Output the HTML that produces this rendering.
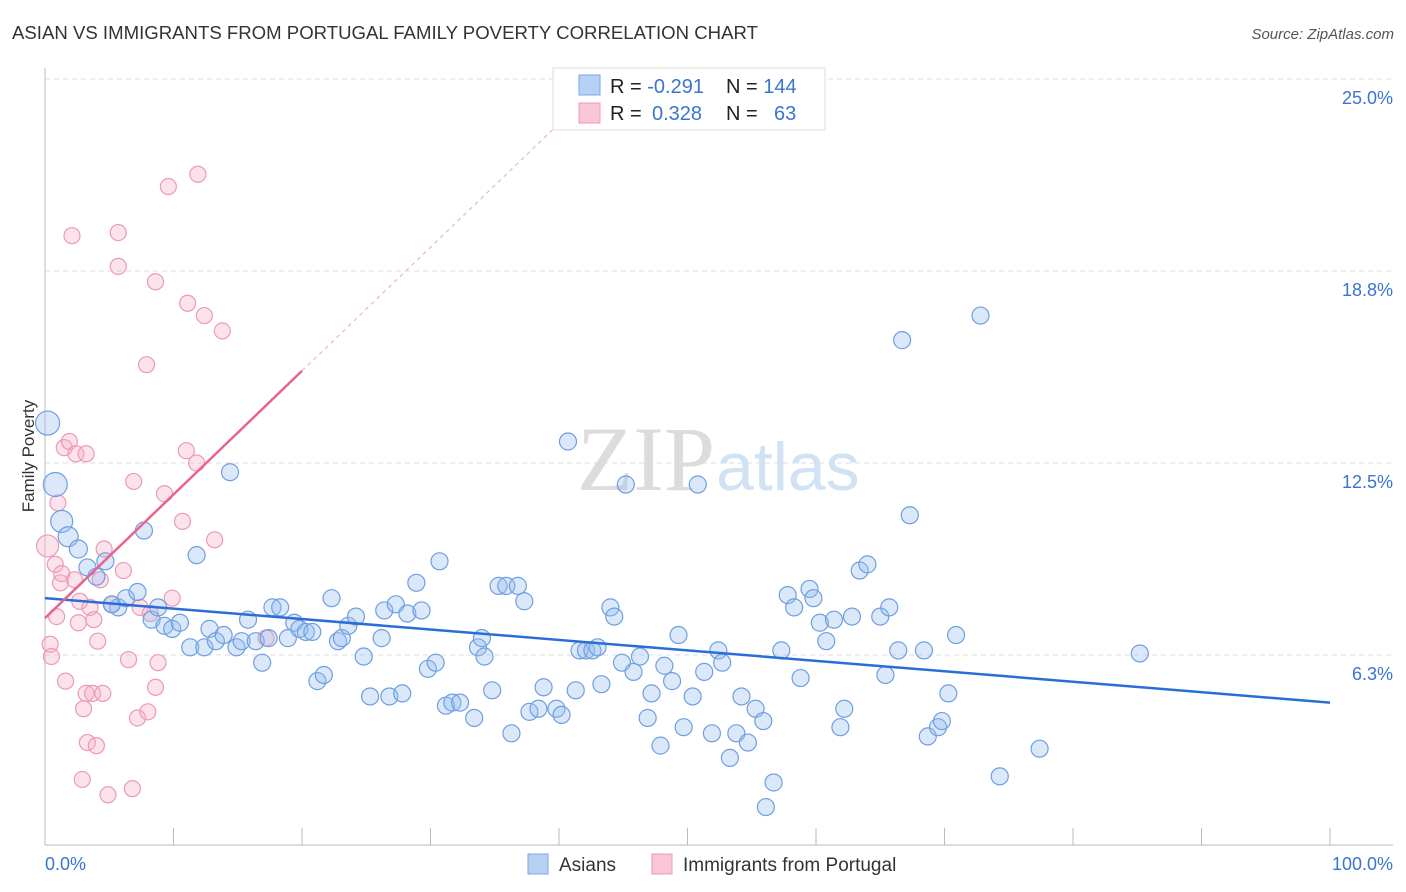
<!DOCTYPE html>
<html><head><meta charset="utf-8"><style>
body{margin:0;background:#fff;font-family:"Liberation Sans",sans-serif;}
svg{display:block}
</style></head><body>
<svg id="c" width="1406" height="892" xmlns="http://www.w3.org/2000/svg">
<text x="12" y="39" font-size="18.6" fill="#333">ASIAN VS IMMIGRANTS FROM PORTUGAL FAMILY POVERTY CORRELATION CHART</text>
<text x="1394" y="39" font-size="15" fill="#555" font-style="italic" text-anchor="end">Source: ZipAtlas.com</text>
<text x="0" y="0" transform="translate(34,456) rotate(-90)" font-size="17" fill="#333" text-anchor="middle">Family Poverty</text>
<g id="grid"></g>
<text x="715" y="490" font-size="92" fill="#dcdcdc" text-anchor="end" font-family="Liberation Serif,serif">ZIP</text>
<text x="716" y="490" font-size="68" fill="#d2e2f5">atlas</text>
<g id="pts"></g>
<g id="legend">
<rect x="553" y="68" width="272" height="62" fill="#fff" stroke="#ddd"/>
<rect x="579" y="75" width="21" height="20" fill="#b7d1f4" stroke="#7aa7e6"/>
<rect x="579" y="103" width="21" height="20" fill="#f9c6d5" stroke="#ec9ab5"/>
<text x="610" y="93" font-size="20" fill="#222">R = <tspan fill="#3b74d4">-0.291</tspan></text>
<text x="726" y="93" font-size="20" fill="#222">N = <tspan fill="#3b74d4">144</tspan></text>
<text x="610" y="120" font-size="20" fill="#222">R = <tspan fill="#3b74d4" x="652">0.328</tspan></text>
<text x="726" y="120" font-size="20" fill="#222">N = <tspan fill="#3b74d4" x="774">63</tspan></text>
</g>
<g>
<rect x="528" y="854" width="20" height="20" fill="#b7d1f4" stroke="#7aa7e6"/>
<text x="559" y="871" font-size="19" fill="#333">Asians</text>
<rect x="652" y="854" width="20" height="20" fill="#f9c6d5" stroke="#ec9ab5"/>
<text x="683" y="871" font-size="19" fill="#333">Immigrants from Portugal</text>
</g>
</svg>
<script>
const yTicks=[6.25,12.5,18.75,25];
const yTickLabels=["6.3%","12.5%","18.8%","25.0%"];
const xTickLabels=["0.0%","100.0%"];
const asianX=[0.2,0.8,1.3,1.8,2.6,3.3,4.0,4.7,5.7,5.2,6.3,7.2,7.7,8.3,8.8,9.3,9.9,10.5,11.3,11.8,12.4,12.8,13.3,13.9,14.4,14.9,15.3,15.8,16.4,16.9,17.4,17.7,18.3,18.9,19.4,19.8,20.3,20.8,21.2,21.7,22.3,22.8,23.1,23.6,24.2,24.8,25.3,26.2,26.4,26.8,27.3,27.8,28.2,28.9,29.3,29.8,30.4,30.7,31.2,31.7,32.3,33.4,33.7,34.0,34.2,34.8,35.3,35.9,36.3,36.8,37.3,37.7,38.4,38.8,39.8,40.2,40.7,41.3,41.6,42.1,42.6,43.0,43.3,44.0,44.3,44.9,45.2,45.8,46.3,46.9,47.2,47.9,48.2,48.8,49.3,49.7,50.4,50.8,51.3,51.9,52.4,52.7,53.3,53.8,54.2,54.7,55.3,55.9,56.1,56.7,57.3,57.8,58.3,58.8,59.5,59.8,60.3,60.8,61.4,61.9,62.2,62.8,63.4,64.0,65.0,65.4,65.7,66.4,66.7,67.3,68.4,68.7,69.5,69.8,70.3,70.9,72.8,74.3,77.4,85.2];
const asianY=[13.8,11.8,10.6,10.1,9.7,9.1,8.8,9.3,7.8,7.9,8.1,8.3,10.3,7.4,7.8,7.2,7.1,7.3,6.5,9.5,6.5,7.1,6.7,6.9,12.2,6.5,6.7,7.4,6.7,6.0,6.8,7.8,7.8,6.8,7.3,7.1,7.0,7.0,5.4,5.6,8.1,6.7,6.8,7.2,7.5,6.2,4.9,6.8,7.7,4.9,7.9,5.0,7.6,8.6,7.7,5.8,6.0,9.3,4.6,4.7,4.7,4.2,6.5,6.8,6.2,5.1,8.5,8.5,3.7,8.5,8.0,4.4,4.5,5.2,4.5,4.3,13.2,5.1,6.4,6.4,6.4,6.5,5.3,7.8,7.5,6.0,11.8,5.7,6.2,4.2,5.0,3.3,5.9,5.4,6.9,3.9,4.9,11.8,5.7,3.7,6.4,6.0,2.9,3.7,4.9,3.4,4.5,4.1,1.3,2.1,6.4,8.2,7.8,5.5,8.4,8.1,7.3,6.7,7.4,3.9,4.5,7.5,9.0,9.2,7.5,5.6,7.8,6.4,16.5,10.8,6.4,3.6,3.9,4.1,5.0,6.9,17.3,2.3,3.2,6.3];
const asianBig=[12,12,11,10,9];
const ptX=[0.2,0.4,0.5,0.8,0.9,1.0,1.2,1.3,1.5,1.6,1.9,2.1,2.3,2.4,2.6,2.7,2.9,3.0,3.2,3.2,3.3,3.5,3.7,3.8,4.0,4.1,4.3,4.5,4.6,4.9,5.2,5.7,5.7,6.1,6.5,6.8,6.9,7.2,7.4,7.9,8.0,8.2,8.6,8.6,8.8,9.3,9.6,9.9,10.7,11.0,11.1,11.8,11.9,12.4,13.2,13.8,17.2];
const ptY=[9.8,6.6,6.2,9.2,7.5,11.2,8.6,8.9,13.0,5.4,13.2,19.9,8.7,12.8,7.3,8.0,2.2,4.5,5.0,12.8,3.4,7.8,5.0,7.4,3.3,6.7,8.7,5.0,9.7,1.7,7.9,20.0,18.9,9.0,6.1,1.9,11.9,4.2,7.8,15.7,4.4,7.6,18.4,5.2,6.0,11.5,21.5,8.1,10.6,12.9,17.7,12.5,21.9,17.3,10.0,16.8,6.8];
const blueTrend=[8.1,4.7];
const pinkTrend=[7.45,15.5];
const X0=45,X1=1330,YB=847,PX=30.72;
function sx(v){return X0+(X1-X0)*v/100;}
function sy(v){return YB-v*PX;}
const NS="http://www.w3.org/2000/svg";
function mk(tag,attrs,parent){const e=document.createElementNS(NS,tag);for(const k in attrs)e.setAttribute(k,attrs[k]);parent.appendChild(e);return e;}
const grid=document.getElementById('grid');
yTicks.forEach((t,i)=>{
 const l=mk('line',{x1:X0,x2:1393,y1:sy(t),y2:sy(t),stroke:'#ddd','stroke-dasharray':'5,4'},grid);
 
 
 const tx=mk('text',{x:1393,y:sy(t)+25,'font-size':18,fill:'#3b74d4','text-anchor':'end'},grid);
 tx.textContent=yTickLabels[i];
 
 
});
const ax=mk('line',{x1:X0,x2:X0,y1:68,y2:845,stroke:'#bbb'},grid);


const bx=mk('line',{x1:X0,x2:1393,y1:845,y2:845,stroke:'#bbb'},grid);


for(let i=0;i<=10;i++){
 const t=mk('line',{x1:sx(i*10),x2:sx(i*10),y1:828,y2:845,stroke:'#bbb'},grid);
 
 
}
[[0,'start',45],[100,'end',1393]].forEach((d,i)=>{
 const tx=mk('text',{x:d[2],y:870,'font-size':18,fill:'#3b74d4','text-anchor':d[1]},grid);
 tx.textContent=xTickLabels[i];
 
 
});
const pts=document.getElementById('pts');
ptX.forEach((x,i)=>{
 const c=mk('circle',{cx:sx(x),cy:sy(ptY[i]),r:i==0?11:8,fill:'rgba(246,176,198,0.35)',stroke:'#ec9ab5','stroke-width':1.2},pts);
 
 
});
asianX.forEach((x,i)=>{
 const c=mk('circle',{cx:sx(x),cy:sy(asianY[i]),r:asianBig[i]||8.5,fill:'rgba(150,190,240,0.35)',stroke:'#6f9fe0','stroke-width':1.2},pts);
 
 
});
const bt=mk('line',{x1:sx(0),y1:sy(blueTrend[0]),x2:sx(100),y2:sy(blueTrend[1]),stroke:'#2a6dd9','stroke-width':2.5},pts);


const slope=(pinkTrend[1]-pinkTrend[0])/20;
const xe=(25-pinkTrend[0])/slope;
const pd=mk('line',{x1:sx(20),y1:sy(pinkTrend[1]),x2:sx(xe),y2:sy(25),stroke:'#f0b3c6','stroke-width':1.2,'stroke-dasharray':'4,4'},pts);


const pt=mk('line',{x1:sx(0),y1:sy(pinkTrend[0]),x2:sx(20),y2:sy(pinkTrend[1]),stroke:'#e8648e','stroke-width':2.5},pts);


</script>
</body></html>
